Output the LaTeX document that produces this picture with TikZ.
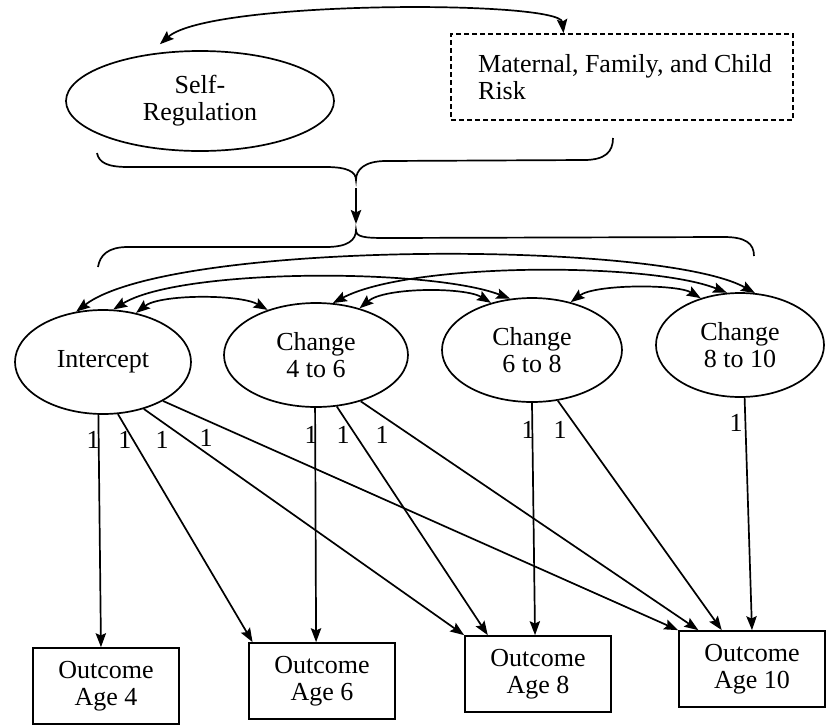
\documentclass[tikz,border=0pt]{standalone}
\usepackage{fontspec}
\setmainfont{Liberation Serif}
\usetikzlibrary{shapes.geometric,arrows.meta,calc}
\begin{document}
\begin{tikzpicture}[x=0.5pt,y=-0.5pt,
  every node/.style={font=\fontsize{13}{13.5}\selectfont},
  lat/.style={draw, ellipse, line width=0.85pt, inner sep=0pt, align=center},
  obs/.style={draw, rectangle, line width=0.85pt, minimum width=73pt, minimum height=38pt, inner sep=0pt, align=center},
  risk/.style={draw, rectangle, dash pattern=on 2.5pt off 1.5pt, line width=0.85pt, minimum width=171pt, minimum height=43pt, align=left, inner sep=0pt},
  arr/.style={line width=0.85pt, -{Stealth[length=7pt,width=5.2pt,inset=1.2pt]}},
  dbl/.style={line width=0.85pt, {Stealth[length=7pt,width=5.2pt,inset=1.2pt]}-{Stealth[length=7pt,width=5.2pt,inset=1.2pt]}},
  bracepath/.style={line width=0.85pt},
  one/.style={inner sep=0pt}
]
\useasboundingbox (0,0) rectangle (827,725);

% top level
\node[lat, minimum width=134pt, minimum height=50pt] (SR) at (200,101) {Self-\\Regulation};
\node[risk] (MR) at (622,77) {\hspace*{3pt}Maternal, Family, and Child\\\hspace*{3pt}Risk};
\draw[dbl] ($(SR.128)+(-2,-8)$) .. controls (210,0) and (560,0) .. ($(MR.north west)!0.33!(MR.north east)$);

% braces
\coordinate (b1) at (356,180);
\coordinate (b2) at (356,230);
\draw[bracepath] (97,153) .. controls (99,163) and (108,167) .. (128,167) -- (326,167)
  .. controls (348,167) and (356,172) .. (b1)
  .. controls (356,170) and (364,161) .. (386,161) -- (584,160)
  .. controls (605,160) and (613,152) .. (613,138);
\draw[arr] ($(b1)+(0,8)$) -- ($(b2)+(0,-6)$);
\draw[bracepath] (98,267) .. controls (100,255) and (108,247) .. (128,247) -- (326,247)
  .. controls (348,247) and (356,240) .. (b2)
  .. controls (356,237) and (364,238) .. (386,238) -- (724,237)
  .. controls (745,237) and (754,243) .. (754,256);

% latent growth factors
\node[lat, minimum width=88pt, minimum height=52pt] (I) at (103,362) {Intercept};
\node[lat, minimum width=92pt, minimum height=52pt] (C1) at (316,355) {Change\\4 to 6};
\node[lat, minimum width=90pt, minimum height=52pt] (C2) at (532,350) {Change\\6 to 8};
\node[lat, minimum width=84pt, minimum height=52pt] (C3) at (740,345) {Change\\8 to 10};

% covariances
\draw[dbl] (I.56) .. controls (160,294) and (240,294) .. (C1.137);
\draw[dbl] (I.79) .. controls (180,268) and (430,268) .. (C2.113);
\draw[dbl] (I.118) .. controls (170,240) and (660,240) .. (C3.74);
\draw[dbl] (C1.47) .. controls (385,287) and (465,287) .. (C2.131);
\draw[dbl] (C1.72) .. controls (410,262) and (650,262) .. (C3.104);
\draw[dbl] (C2.51) .. controls (595,284) and (677,284) .. (C3.130);

% outcomes
\node[obs] (O4) at (106,686) {Outcome\\Age 4};
\node[obs] (O6) at (322,681) {Outcome\\Age 6};
\node[obs] (O8) at (538,674) {Outcome\\Age 8};
\node[obs] (O10) at (752,669) {Outcome\\Age 10};

% loadings
\draw[arr] (I.265) -- ($(O4.north west)!0.466!(O4.north east)$);
\draw[arr] (I.286) -- ($(O6.north west)!0.03!(O6.north east)$);
\draw[arr] (I.311) -- (O8.north west);
\draw[arr] (I.327) -- (O10.north west);
\draw[arr] (C1.269) -- ($(O6.north west)!0.46!(O6.north east)$);
\draw[arr] (C1.292) -- ($(O8.north west)!0.16!(O8.north east)$);
\draw[arr] (C1.314) -- ($(O10.north west)!0.137!(O10.north east)$);
\draw[arr] (C2.270) -- ($(O8.north west)!0.48!(O8.north east)$);
\draw[arr] (C2.297) -- ($(O10.north west)!0.295!(O10.north east)$);
\draw[arr] (C3.275) -- ($(O10.north west)!0.5!(O10.north east)$);

% labels
\node[one] (l1) at (93,440) {1};
\node[one] (l2) at (125,440) {1};
\node[one] (l3) at (162,440) {1};
\node[one] (l4) at (206,438) {1};
\node[one] (l5) at (311,435) {1};
\node[one] (l6) at (343,435) {1};
\node[one] (l7) at (382,435) {1};
\node[one] (l8) at (528,430) {1};
\node[one] (l9) at (560,430) {1};
\node[one] (l10) at (736,423) {1};
\end{tikzpicture}
\end{document}
